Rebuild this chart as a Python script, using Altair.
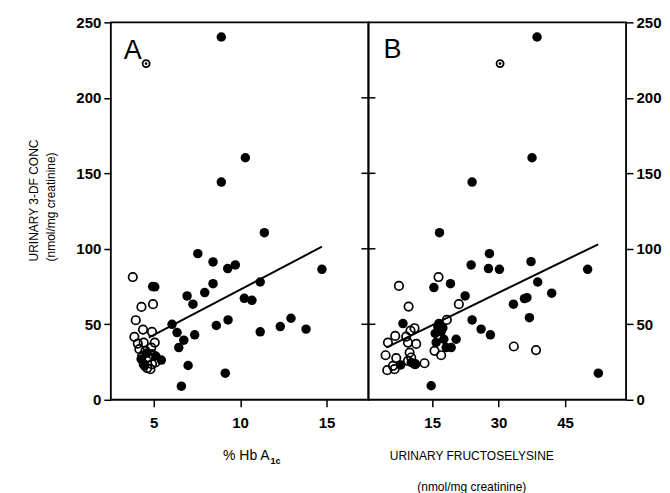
import altair as alt
import pandas as pd

# ---------------- data ----------------
# Panel A: % Hb A1c vs urinary 3-DF
a_fill_x = [8.89, 10.28, 8.89, 11.38, 7.53, 8.41, 9.26, 9.70, 14.71, 4.92, 5.04, 8.41, 11.14,
            7.93, 6.91, 7.25, 10.22, 10.66, 6.04, 9.28, 8.60, 12.92, 12.30, 13.79, 11.14, 6.33,
            7.35, 6.72, 6.43, 6.97, 9.12, 6.58, 5.42, 4.45, 4.60, 4.25, 5.10]
a_fill_y = [240.3, 160.3, 144.2, 110.7, 96.8, 91.3, 86.9, 89.3, 86.4, 75.0, 74.8, 76.9, 78.0,
            71.0, 68.8, 63.3, 67.2, 65.9, 50.0, 52.9, 49.2, 54.0, 48.5, 46.8, 45.0, 44.5,
            43.0, 39.5, 34.6, 22.7, 17.6, 9.0, 26.3, 22.5, 31.0, 27.0, 29.0]
a_open_x = [3.77, 4.27, 4.94, 3.94, 4.36, 4.88, 3.86, 4.06, 4.40, 5.04, 4.84, 4.50, 4.88,
            4.31, 4.69, 4.40, 4.88, 4.79, 5.08, 4.15, 4.60]
a_open_y = [81.3, 61.5, 63.3, 52.7, 46.5, 45.0, 41.7, 37.2, 37.9, 37.9, 34.6, 32.4, 30.2,
            29.1, 28.0, 23.6, 23.6, 20.3, 24.7, 33.5, 21.0]
a_spec_x = [4.54]
a_spec_y = [222.7]
a_line_x = [4.69, 14.71]
a_line_y = [41.2, 101.4]

# Panel B: urinary fructoselysine vs urinary 3-DF
b_fill_x = [38.69, 37.56, 24.02, 16.65, 27.93, 37.33, 23.80, 27.71, 30.19, 50.12, 15.38, 19.13,
            38.84, 42.00, 22.44, 35.84, 36.40, 33.36, 36.97, 24.02, 26.05, 28.15, 8.39, 52.54,
            14.77, 16.28, 17.41, 15.68, 17.03, 17.63, 20.41, 19.29, 18.16, 7.86, 10.26, 11.01,
            16.50, 15.90]
b_fill_y = [240.3, 160.3, 144.2, 110.7, 96.8, 91.5, 89.3, 86.9, 86.4, 86.4, 74.3, 76.9,
            78.0, 70.6, 68.8, 67.0, 67.6, 63.3, 54.4, 52.9, 46.8, 43.0, 50.5, 17.6,
            9.3, 48.3, 47.6, 43.9, 45.2, 40.1, 40.1, 34.6, 34.6, 23.1, 24.7, 23.6,
            50.5, 38.0]
b_open_x = [7.49, 16.43, 9.67, 21.02, 18.31, 33.44, 38.46, 15.53, 17.03, 13.27, 5.00, 6.65,
            9.13, 11.01, 10.10, 9.52, 11.39, 4.47, 6.88, 9.90, 10.26, 4.85, 6.50, 6.13,
            9.52, 11.17]
b_open_y = [75.4, 81.3, 61.7, 63.3, 52.9, 35.3, 32.9, 32.4, 29.5, 24.2, 37.9, 42.3,
            41.8, 47.4, 45.8, 37.9, 37.0, 29.5, 27.6, 31.3, 28.0, 19.6, 20.3, 22.5,
            25.8, 23.6]
b_spec_x = [30.34]
b_spec_y = [222.7]
b_line_x = [4.62, 52.5]
b_line_y = [34.6, 103.0]

y_ticks = [0, 50, 100, 150, 200, 250]
a_x_ticks = [5, 10, 15]
b_x_ticks = [15, 30, 45]
divider_ticks = [50, 100, 150, 200]

y_title = ["URINARY 3-DF CONC", "(nmol/mg creatinine)"]
a_title_main = ["%  Hb  A"]
a_title_sub = ["1c"]
b_title = ["URINARY FRUCTOSELYSINE", "(nmol/mg creatinine)"]
panel_a_label = ["A"]
panel_b_label = ["B"]

# ---------------- chart ----------------
W, H = 258, 378
FONT = "Liberation Sans"
LBL = dict(labelFont=FONT, labelFontSize=15, labelFontWeight="bold", labelColor="black",
           tickColor="black", tickWidth=1.5, tickSize=7, domain=False, grid=False,
           labelPadding=3, labelOverlap=False, labelFlush=False, labelBound=False)
LBLX = dict(LBL, labelPadding=9)

a_dom = [2.5, 17.4]
b_dom = [0.6, 58.8]
y_dom = [0, 250]


def df(x, y):
    return pd.DataFrame({"x": x, "y": y})


def xs(dom, axis):
    return alt.X("x:Q", scale=alt.Scale(domain=dom, nice=False, zero=False), axis=axis)


def ys(axis):
    return alt.Y("y:Q", scale=alt.Scale(domain=y_dom, nice=False), axis=axis)


def point_layers(fx, fy, ox, oy, sx, sy, lx, ly, dom, xaxis, yaxis):
    line = alt.Chart(df(lx, ly)).mark_line(color="black", strokeWidth=2).encode(
        x=xs(dom, xaxis), y=ys(yaxis))
    opn = alt.Chart(df(ox, oy)).mark_point(shape="circle", filled=False, color="black",
                                           size=72, strokeWidth=1.7, opacity=1).encode(
        x=xs(dom, xaxis), y=ys(yaxis))
    fil = alt.Chart(df(fx, fy)).mark_circle(color="black", size=90, opacity=1).encode(
        x=xs(dom, xaxis), y=ys(yaxis))
    spo = alt.Chart(df(sx, sy)).mark_point(shape="circle", filled=False, color="black",
                                           size=50, strokeWidth=1.8, opacity=1).encode(
        x=xs(dom, xaxis), y=ys(yaxis))
    spd = alt.Chart(df(sx, sy)).mark_circle(color="black", size=7, opacity=1).encode(
        x=xs(dom, xaxis), y=ys(yaxis))
    return [line, opn, fil, spo, spd]


def text_layer(vals, x, y, size, align="left", weight="normal"):
    return alt.Chart(pd.DataFrame({"t": vals})).mark_text(
        font=FONT, fontSize=size, align=align, baseline="alphabetic", color="black",
        fontWeight=weight).encode(text="t:N", x=alt.value(x), y=alt.value(y))


# Panel A
a_xaxis = alt.Axis(values=a_x_ticks, title=None, labels=False, **LBLX)
a_yaxis = alt.Axis(values=y_ticks, title=y_title, titleFont=FONT, titleFontSize=12,
                   titleFontWeight="normal", titleColor="black", titleAngle=270,
                   titleAlign="left", titleBaseline="top", titleX=-82, titleY=239,
                   titleLineHeight=17, **LBL)
a_layers = point_layers(a_fill_x, a_fill_y, a_open_x, a_open_y, a_spec_x, a_spec_y,
                        a_line_x, a_line_y, a_dom, a_xaxis, a_yaxis)
a_tick_labels = alt.Chart(pd.DataFrame({"x": a_x_ticks})).mark_text(
    font=FONT, fontSize=15, fontWeight="bold", color="black", align="center",
    baseline="top").encode(x=xs(a_dom, a_xaxis), text="x:Q", y=alt.value(H + 16))
a_layers += [
    a_tick_labels,
    text_layer(panel_a_label, 13, 37, 27),
    text_layer(a_title_main, 159, 438, 14, align="right"),
    text_layer(a_title_sub, 160, 442, 9, weight="bold"),
]
panel_a = alt.layer(*a_layers).properties(width=W, height=H)

# Panel B
b_xaxis = alt.Axis(values=b_x_ticks, title=b_title, titleFont=FONT, titleFontSize=12,
                   titleFontWeight="normal", titleColor="black", titleX=103, titleY=60,
                   titleAlign="center", titleBaseline="alphabetic", titleLineHeight=31,
                   **LBLX)
b_yaxis = alt.Axis(values=y_ticks, title=None, orient="right", **LBL)
b_layers = point_layers(b_fill_x, b_fill_y, b_open_x, b_open_y, b_spec_x, b_spec_y,
                        b_line_x, b_line_y, b_dom, b_xaxis, b_yaxis)
div = alt.Chart(pd.DataFrame({"y": divider_ticks})).mark_rule(
    color="black", strokeWidth=1.5).encode(
    y=ys(b_yaxis), x=alt.value(-7), x2=alt.value(7))
b_layers += [div, text_layer(panel_b_label, 15, 36, 27)]
panel_b = alt.layer(*b_layers).properties(width=W, height=H)

chart = alt.hconcat(panel_a, panel_b, spacing=0, bounds="flush").properties(
    padding={"left": 19, "top": 6, "right": 0, "bottom": 0},
    background="white"
).configure_view(stroke="black", strokeWidth=1.8).configure_axis(labelOverlap=False)

chart.save("out.html", embed_options={"renderer": "svg", "actions": False})
